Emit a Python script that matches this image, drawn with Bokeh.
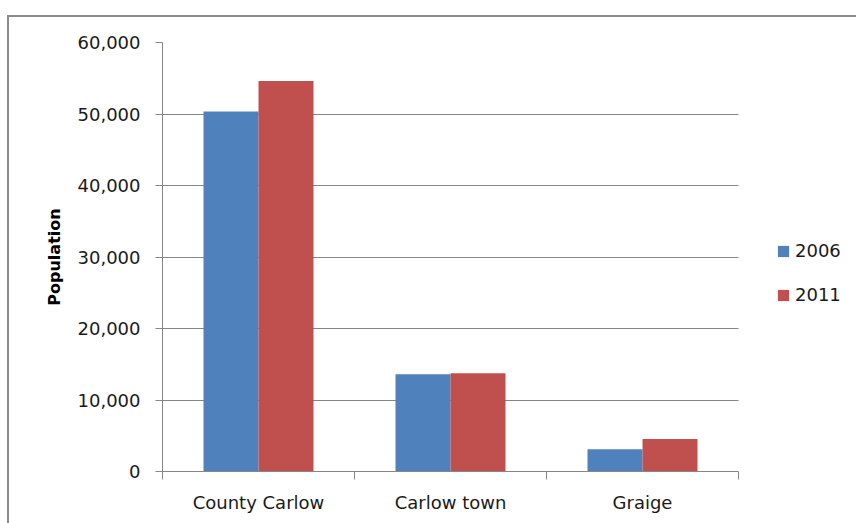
from bokeh.plotting import figure
from bokeh.models import (ColumnDataSource, Range1d, FixedTicker, NumeralTickFormatter,
                          Legend, LegendItem, InlineStyleSheet)
from bokeh.transform import dodge
from bokeh.embed import file_html
from bokeh.resources import INLINE

categories = ["County Carlow", "Carlow town", "Graige"]
pop_2006 = [50349, 13600, 3100]
pop_2011 = [54612, 13750, 4550]
series_names = ["2006", "2011"]
y_ticks = [0, 10000, 20000, 30000, 40000, 50000, 60000]

n = len(categories)
idx = [i + 0.5 for i in range(n)]
src = ColumnDataSource(dict(x=idx, cat=categories, y06=pop_2006, y11=pop_2011))

FONT = "DejaVu Sans"
GRID = "#868686"
TXT = "#1a1a1a"
bw = 0.2865
# frame spans to the window's right edge; the plot area itself covers 0..n
x_end = n * (856 - 162) / 576.0

p = figure(width=856, height=523, output_backend="svg", toolbar_location=None,
           x_range=Range1d(0, x_end), y_range=Range1d(0, 60000),
           min_border_left=162, min_border_right=0, min_border_top=42,
           min_border_bottom=52, background_fill_color=None,
           border_fill_color=None, outline_line_color=None)

# chart-area border (left and top edges visible in the window)
p.stylesheets = [InlineStyleSheet(css=":host { box-shadow: inset 7px 15px 0 0 #ffffff, "
                                      "inset 9px 17px 0 0 #8a8a8a; }")]

r1 = p.vbar(x=dodge("x", -bw / 2, range=p.x_range), top="y06", width=bw, source=src,
            fill_color="#4F81BD", line_color=None)
r2 = p.vbar(x=dodge("x", bw / 2, range=p.x_range), top="y11", width=bw, source=src,
            fill_color="#C0504D", line_color=None)

# x axis: labels centred on categories, ticks at category boundaries
p.xaxis.bounds = (0, n)
p.xaxis.ticker = FixedTicker(ticks=idx, minor_ticks=list(range(n + 1)))
p.xaxis.major_label_overrides = {v: c for v, c in zip(idx, categories)}
p.xaxis.major_tick_out = 0
p.xaxis.major_tick_in = 0
p.xaxis.minor_tick_out = 8
p.xaxis.minor_tick_in = 0
p.xaxis.minor_tick_line_color = GRID
p.xaxis.axis_line_color = GRID
p.xaxis.major_label_standoff = 12
p.xaxis.major_label_text_font = FONT
p.xaxis.major_label_text_font_size = "18px"
p.xaxis.major_label_text_color = TXT

p.yaxis.ticker = FixedTicker(ticks=y_ticks)
p.yaxis.formatter = NumeralTickFormatter(format="0,0")
p.yaxis.major_tick_out = 7
p.yaxis.major_tick_in = 0
p.yaxis.minor_tick_line_color = None
p.yaxis.major_tick_line_color = GRID
p.yaxis.axis_line_color = GRID
p.yaxis.major_label_standoff = 15
p.yaxis.major_label_text_font = FONT
p.yaxis.major_label_text_font_size = "18px"
p.yaxis.major_label_text_color = TXT
p.yaxis.axis_label = "Population"
p.yaxis.axis_label_text_font = FONT
p.yaxis.axis_label_text_font_style = "bold"
p.yaxis.axis_label_text_font_size = "16px"
p.yaxis.axis_label_text_color = "black"
p.yaxis.axis_label_standoff = 11

p.xgrid.grid_line_color = None
p.ygrid.ticker = FixedTicker(ticks=y_ticks)
p.ygrid.grid_line_color = GRID
p.ygrid.cross_bounds = (0, n)

legend = Legend(items=[LegendItem(label=series_names[0], renderers=[r1]),
                       LegendItem(label=series_names[1], renderers=[r2])],
                location=(614, 166), orientation="vertical",
                glyph_width=14, glyph_height=14, label_height=20, spacing=23,
                label_standoff=5, padding=0, margin=0, border_line_color=None,
                background_fill_alpha=0, label_text_font=FONT,
                label_text_font_size="18px", label_text_color=TXT)
p.add_layout(legend, "center")

open("out.html", "w").write(file_html(p, INLINE))
